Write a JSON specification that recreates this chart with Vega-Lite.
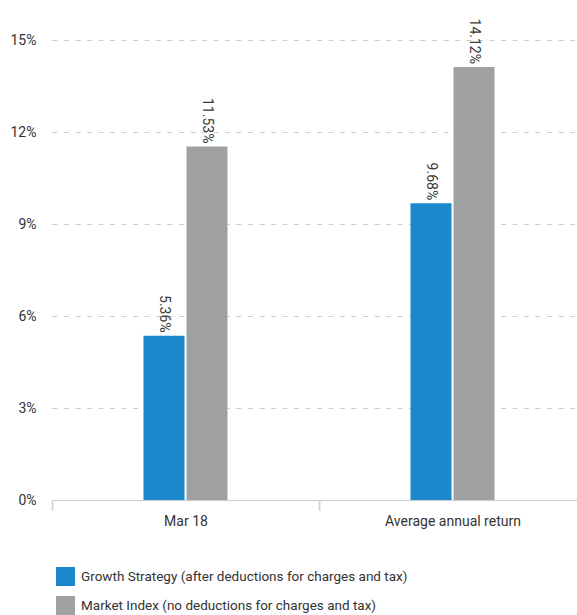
{
  "$schema": "https://vega.github.io/schema/vega-lite/v6.json",
  "width": 536,
  "height": 460,
  "autosize": {"type": "none"},
  "padding": {"left": 41, "top": 40, "right": 0, "bottom": 115},
  "background": "white",
  "config": {"view": {"stroke": null}, "font": "Roboto"},
  "data": {
    "values": [
      {"period": "Mar 18", "series": "Growth Strategy", "value": 0.0536},
      {"period": "Mar 18", "series": "Market Index", "value": 0.1153},
      {"period": "Average annual return", "series": "Growth Strategy", "value": 0.0968},
      {"period": "Average annual return", "series": "Market Index", "value": 0.1412}
    ]
  },
  "encoding": {
    "x": {
      "field": "period",
      "type": "nominal",
      "sort": ["Mar 18", "Average annual return"],
      "scale": {"range": [11, 545], "paddingInner": 0, "paddingOuter": 0},
      "axis": {
        "title": null,
        "domain": false,
        "grid": false,
        "labelAngle": 0,
        "tickBand": "extent",
        "tickSize": 10,
        "tickColor": "#d4d4d4",
        "tickWidth": 2,
        "labelPadding": 4,
        "labelFontSize": 14,
        "labelColor": "#333333"
      }
    },
    "xOffset": {
      "field": "series",
      "type": "nominal",
      "sort": ["Growth Strategy", "Market Index"],
      "scale": {"range": [91.5, 175.5], "paddingInner": 0.0465, "paddingOuter": 0}
    },
    "y": {
      "field": "value",
      "type": "quantitative",
      "scale": {"domain": [0, 0.15]},
      "axis": {
        "title": null,
        "values": [0, 0.03, 0.06, 0.09, 0.12, 0.15],
        "format": ".0%",
        "domain": false,
        "ticks": false,
        "tickSize": 0,
        "labelPadding": 5,
        "labelFontSize": 14,
        "labelColor": "#333333",
        "grid": true,
        "gridColor": "#cccccc",
        "gridWidth": 1.2,
        "gridDash": {"condition": {"test": "datum.value === 0", "value": []}, "value": [5, 6.5]}
      }
    }
  },
  "layer": [
    {
      "mark": {"type": "bar"},
      "encoding": {
        "color": {
          "field": "series",
          "type": "nominal",
          "scale": {"domain": ["Growth Strategy", "Market Index"], "range": ["#1b88cb", "#a0a1a3"]},
          "legend": {
            "orient": "none",
            "legendX": 15,
            "legendY": 527,
            "title": null,
            "padding": 0,
            "symbolType": "square",
            "symbolSize": 361,
            "symbolStrokeWidth": 0,
            "symbolOpacity": 1,
            "rowPadding": 10,
            "labelOffset": 6,
            "labelFontSize": 13.5,
            "labelColor": "#333333",
            "labelLimit": 0,
            "labelExpr": "datum.label == 'Growth Strategy' ? 'Growth Strategy (after deductions for charges and tax)' : 'Market Index (no deductions for charges and tax)'"
          }
        }
      }
    },
    {
      "mark": {"type": "text", "angle": 90, "align": "right", "baseline": "middle", "yOffset": -3, "fontSize": 14, "color": "#3a3a3a"},
      "encoding": {"text": {"field": "value", "type": "quantitative", "format": ".2%"}}
    }
  ]
}
